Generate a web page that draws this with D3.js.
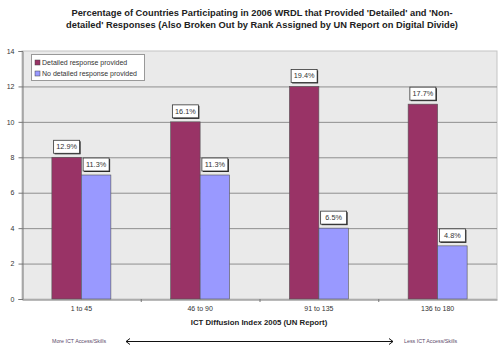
<!DOCTYPE html>
<html>
<head>
<meta charset="utf-8">
<script src="https://cdn.jsdelivr.net/npm/d3@7"></script>
<style>
  body { margin:0; background:#fff; }
  text { font-family: "Liberation Sans", Arial, sans-serif; }
</style>
</head>
<body>
<div id="chart"></div>
<script>
// data
var categories = ["1 to 45", "46 to 90", "91 to 135", "136 to 180"];
var series_names = ["Detailed response provided", "No detailed response provided"];
var detailed = [8, 10, 12, 11];
var non_detailed = [7, 7, 4, 3];
var detailed_labels = ["12.9%", "16.1%", "19.4%", "17.7%"];
var non_detailed_labels = ["11.3%", "11.3%", "6.5%", "4.8%"];
var y_ticks = [0, 2, 4, 6, 8, 10, 12, 14];
var colors = ["#993366", "#9999ff"];

var W = 502, H = 349;
var pLeft = 22, pRight = 497, pTop = 51, pBottom = 299;

var svg = d3.select("#chart").append("svg")
      .attr("width", W).attr("height", H);

// title
var title = svg.append("text")
      .attr("text-anchor", "middle")
      .attr("font-size", 9.3)
      .attr("font-weight", "bold")
      .attr("fill", "#222");
title.append("tspan").attr("x", 262).attr("y", 16)
     .text("Percentage of Countries Participating in 2006 WRDL that Provided 'Detailed' and 'Non-");
title.append("tspan").attr("x", 262).attr("y", 28)
     .text("detailed' Responses (Also Broken Out by Rank Assigned by UN Report on Digital Divide)");

var x0 = d3.scaleBand().domain(categories).range([pLeft, pRight]);
var x1 = d3.scaleBand().domain([0, 1]).range([0, 59]);
var y = d3.scaleLinear().domain([0, 14]).range([pBottom, pTop]);

// plot area
svg.append("rect")
   .attr("x", pLeft).attr("y", pTop)
   .attr("width", pRight - pLeft).attr("height", pBottom - pTop)
   .attr("fill", "#eaeaea").attr("stroke", "#c4c4c4");

// gridlines
svg.selectAll(".grid")
   .data(y_ticks.filter(function(d){ return d > 0 && d < 14; }))
   .enter().append("line")
   .attr("x1", pLeft).attr("x2", pRight)
   .attr("y1", function(d){ return y(d) + 0.5; })
   .attr("y2", function(d){ return y(d) + 0.5; })
   .attr("stroke", "#8e8e8e").attr("stroke-width", 1);

// y axis
var yAxis = svg.append("g")
      .attr("transform", "translate(" + (pLeft + 0.5) + ",0)")
      .call(d3.axisLeft(y).tickValues(y_ticks).tickSize(4).tickPadding(4));
yAxis.selectAll("text").attr("font-size", 7).attr("fill", "#333")
     .style("font-family", "Liberation Sans, Arial, sans-serif");
yAxis.selectAll("line,path").attr("stroke", "#777");

// x axis
var xAxis = svg.append("g")
      .attr("transform", "translate(0," + (pBottom + 0.5) + ")")
      .call(d3.axisBottom(x0).tickSize(0).tickPadding(7));
xAxis.select("path").attr("stroke", "#777");
xAxis.selectAll("text").attr("font-size", 7).attr("fill", "#333")
     .style("font-family", "Liberation Sans, Arial, sans-serif");
// small ticks between categories
svg.selectAll(".xtick")
   .data(categories.slice(1))
   .enter().append("line")
   .attr("x1", function(d){ return x0(d) + 0.5; })
   .attr("x2", function(d){ return x0(d) + 0.5; })
   .attr("y1", pBottom).attr("y2", pBottom + 3)
   .attr("stroke", "#777");

// bars
var rows = categories.map(function(c, i){
  return [
    {cat: c, s: 0, v: detailed[i], lab: detailed_labels[i]},
    {cat: c, s: 1, v: non_detailed[i], lab: non_detailed_labels[i]}
  ];
});

var group = svg.selectAll(".group")
      .data(rows)
      .enter().append("g")
      .attr("class", "group")
      .attr("transform", function(d){
        return "translate(" + (x0(d[0].cat) + x0.bandwidth() / 2 - 29.5) + ",0)";
      });

group.selectAll("rect.bar")
     .data(function(d){ return d; })
     .enter().append("rect")
     .attr("class", "bar")
     .attr("x", function(d){ return x1(d.s); })
     .attr("y", function(d){ return y(d.v); })
     .attr("width", x1.bandwidth())
     .attr("height", function(d){ return y(0) - y(d.v); })
     .attr("fill", function(d){ return colors[d.s]; })
     .attr("stroke", "#555").attr("stroke-width", 0.6);

// value labels in boxes
var lab = group.selectAll("g.lab")
     .data(function(d){ return d; })
     .enter().append("g")
     .attr("class", "lab")
     .attr("transform", function(d){
       return "translate(" + (x1(d.s) + x1.bandwidth() / 2) + "," + (y(d.v) - 4) + ")";
     });
lab.append("rect")
   .attr("x", -12).attr("y", -12).attr("width", 26).attr("height", 13)
   .attr("fill", "#222");
lab.append("rect")
   .attr("x", -13).attr("y", -13).attr("width", 26).attr("height", 13)
   .attr("fill", "#fff").attr("stroke", "#333").attr("stroke-width", 0.8);
lab.append("text")
   .attr("x", 0).attr("y", -4)
   .attr("text-anchor", "middle")
   .attr("font-size", 7.3).attr("fill", "#333")
   .text(function(d){ return d.lab; });

// legend
var legend = svg.append("g").attr("transform", "translate(31,54)");
legend.append("rect")
   .attr("x", 0.5).attr("y", 0.5).attr("width", 113).attr("height", 26)
   .attr("fill", "#fff").attr("stroke", "#999");
var li = legend.selectAll(".li")
   .data(series_names)
   .enter().append("g")
   .attr("transform", function(d, i){ return "translate(4," + (6 + i * 11) + ")"; });
li.append("rect")
   .attr("width", 5).attr("height", 5)
   .attr("fill", function(d, i){ return colors[i]; })
   .attr("stroke", "#444").attr("stroke-width", 0.5);
li.append("text")
   .attr("x", 7).attr("y", 5)
   .attr("font-size", 7).attr("fill", "#333")
   .text(function(d){ return d; });

// x axis title
svg.append("text")
   .attr("x", 259).attr("y", 325)
   .attr("text-anchor", "middle")
   .attr("font-size", 7.8).attr("font-weight", "bold").attr("fill", "#222")
   .text("ICT Diffusion Index 2005 (UN Report)");

// bottom arrow
svg.append("text")
   .attr("x", 52).attr("y", 343)
   .attr("font-size", 5.3).attr("fill", "#5a4a6a")
   .text("More ICT Access/Skills");
svg.append("text")
   .attr("x", 404).attr("y", 343)
   .attr("font-size", 5.3).attr("fill", "#5a4a6a")
   .text("Less ICT Access/Skills");
svg.append("line")
   .attr("x1", 126).attr("x2", 393)
   .attr("y1", 341.5).attr("y2", 341.5)
   .attr("stroke", "#111").attr("stroke-width", 1);
svg.append("path")
   .attr("d", "M130,338.5 L126,341.5 L130,344.5 M389,338.5 L393,341.5 L389,344.5")
   .attr("fill", "none").attr("stroke", "#111").attr("stroke-width", 1);
</script>
</body>
</html>
